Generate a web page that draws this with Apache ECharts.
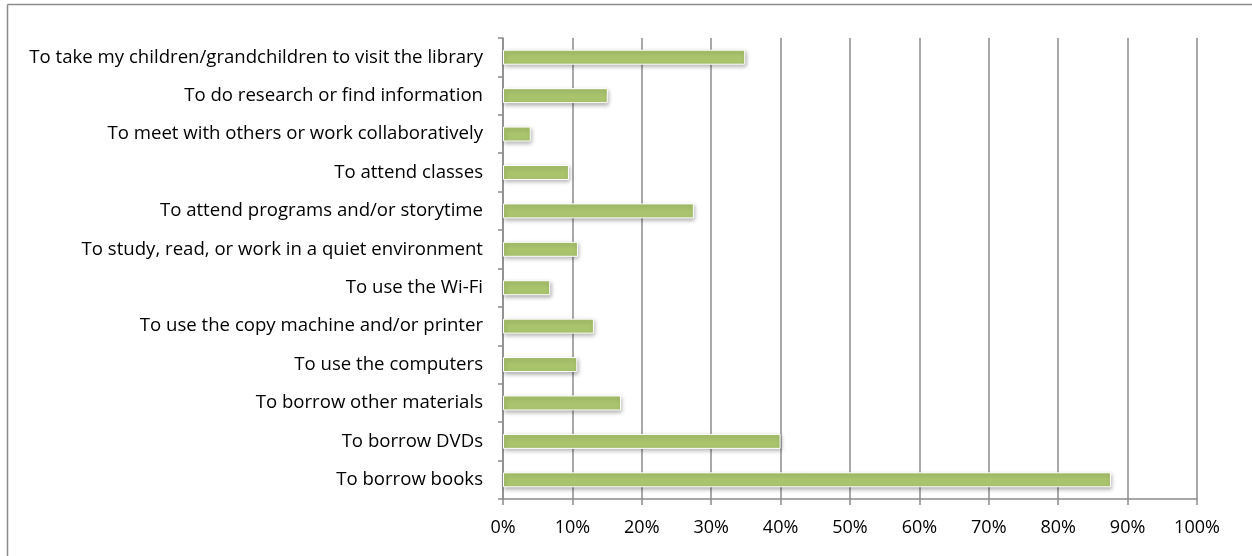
<!DOCTYPE html>
<html><head><meta charset="utf-8">
<script src="https://cdn.jsdelivr.net/npm/echarts@6/dist/echarts.min.js"></script>
<style>html,body{margin:0;padding:0;background:#fff}#c{width:1252px;height:556px}</style>
</head><body><div id="c"></div>
<script>
const categories = [
  "To borrow books",
  "To borrow DVDs",
  "To borrow other materials",
  "To use the computers",
  "To use the copy machine and/or printer",
  "To use the Wi-Fi",
  "To study, read, or work in a quiet environment",
  "To attend programs and/or storytime",
  "To attend classes",
  "To meet with others or work collaboratively",
  "To do research or find information",
  "To take my children/grandchildren to visit the library"
];
const values = [87.6, 40.0, 17.0, 10.7, 13.1, 6.8, 10.8, 27.5, 9.5, 4.0, 15.1, 34.9];
const xTicks = [0, 10, 20, 30, 40, 50, 60, 70, 80, 90, 100];

const chart = echarts.init(document.getElementById('c'));
chart.setOption({
  animation: false,
  backgroundColor: '#fff',
  graphic: [
    {type: 'line', shape: {x1: 7.5, y1: 4.5, x2: 1252, y2: 4.5}, style: {stroke: '#8c8c8c', lineWidth: 1.5}},
    {type: 'line', shape: {x1: 7.5, y1: 4.5, x2: 7.5, y2: 556}, style: {stroke: '#8c8c8c', lineWidth: 1.5}}
  ],
  grid: {left: 503, right: 55, top: 38, bottom: 57, containLabel: false},
  xAxis: {
    type: 'value', min: 0, max: 100, interval: 10,
    axisLine: {show: true, lineStyle: {color: '#8c8c8c', width: 1.5}},
    axisTick: {show: true, length: 6, lineStyle: {color: '#8c8c8c', width: 1.5}},
    axisLabel: {formatter: v => xTicks.includes(v) ? v + '%' : '', color: '#000', fontFamily: 'Open Sans', fontSize: 18, margin: 20},
    splitLine: {show: true, lineStyle: {color: '#8c8c8c', width: 1.5}}
  },
  yAxis: {
    type: 'category', data: categories,
    axisLine: {show: true, lineStyle: {color: '#8c8c8c', width: 1.5}},
    axisTick: {show: true, length: 5, lineStyle: {color: '#8c8c8c', width: 1.5}},
    axisLabel: {color: '#000', fontFamily: 'Open Sans', fontSize: 18.6, margin: 20, padding: [4, 0, 0, 0]}
  },
  series: [{
    type: 'bar', data: values, barWidth: 15,
    itemStyle: {color: '#aac46e', borderColor: '#fff', borderWidth: 1,
      shadowColor: 'rgba(0,0,0,0.3)', shadowBlur: 4, shadowOffsetX: 1, shadowOffsetY: 2}
  }]
});
</script></body></html>
